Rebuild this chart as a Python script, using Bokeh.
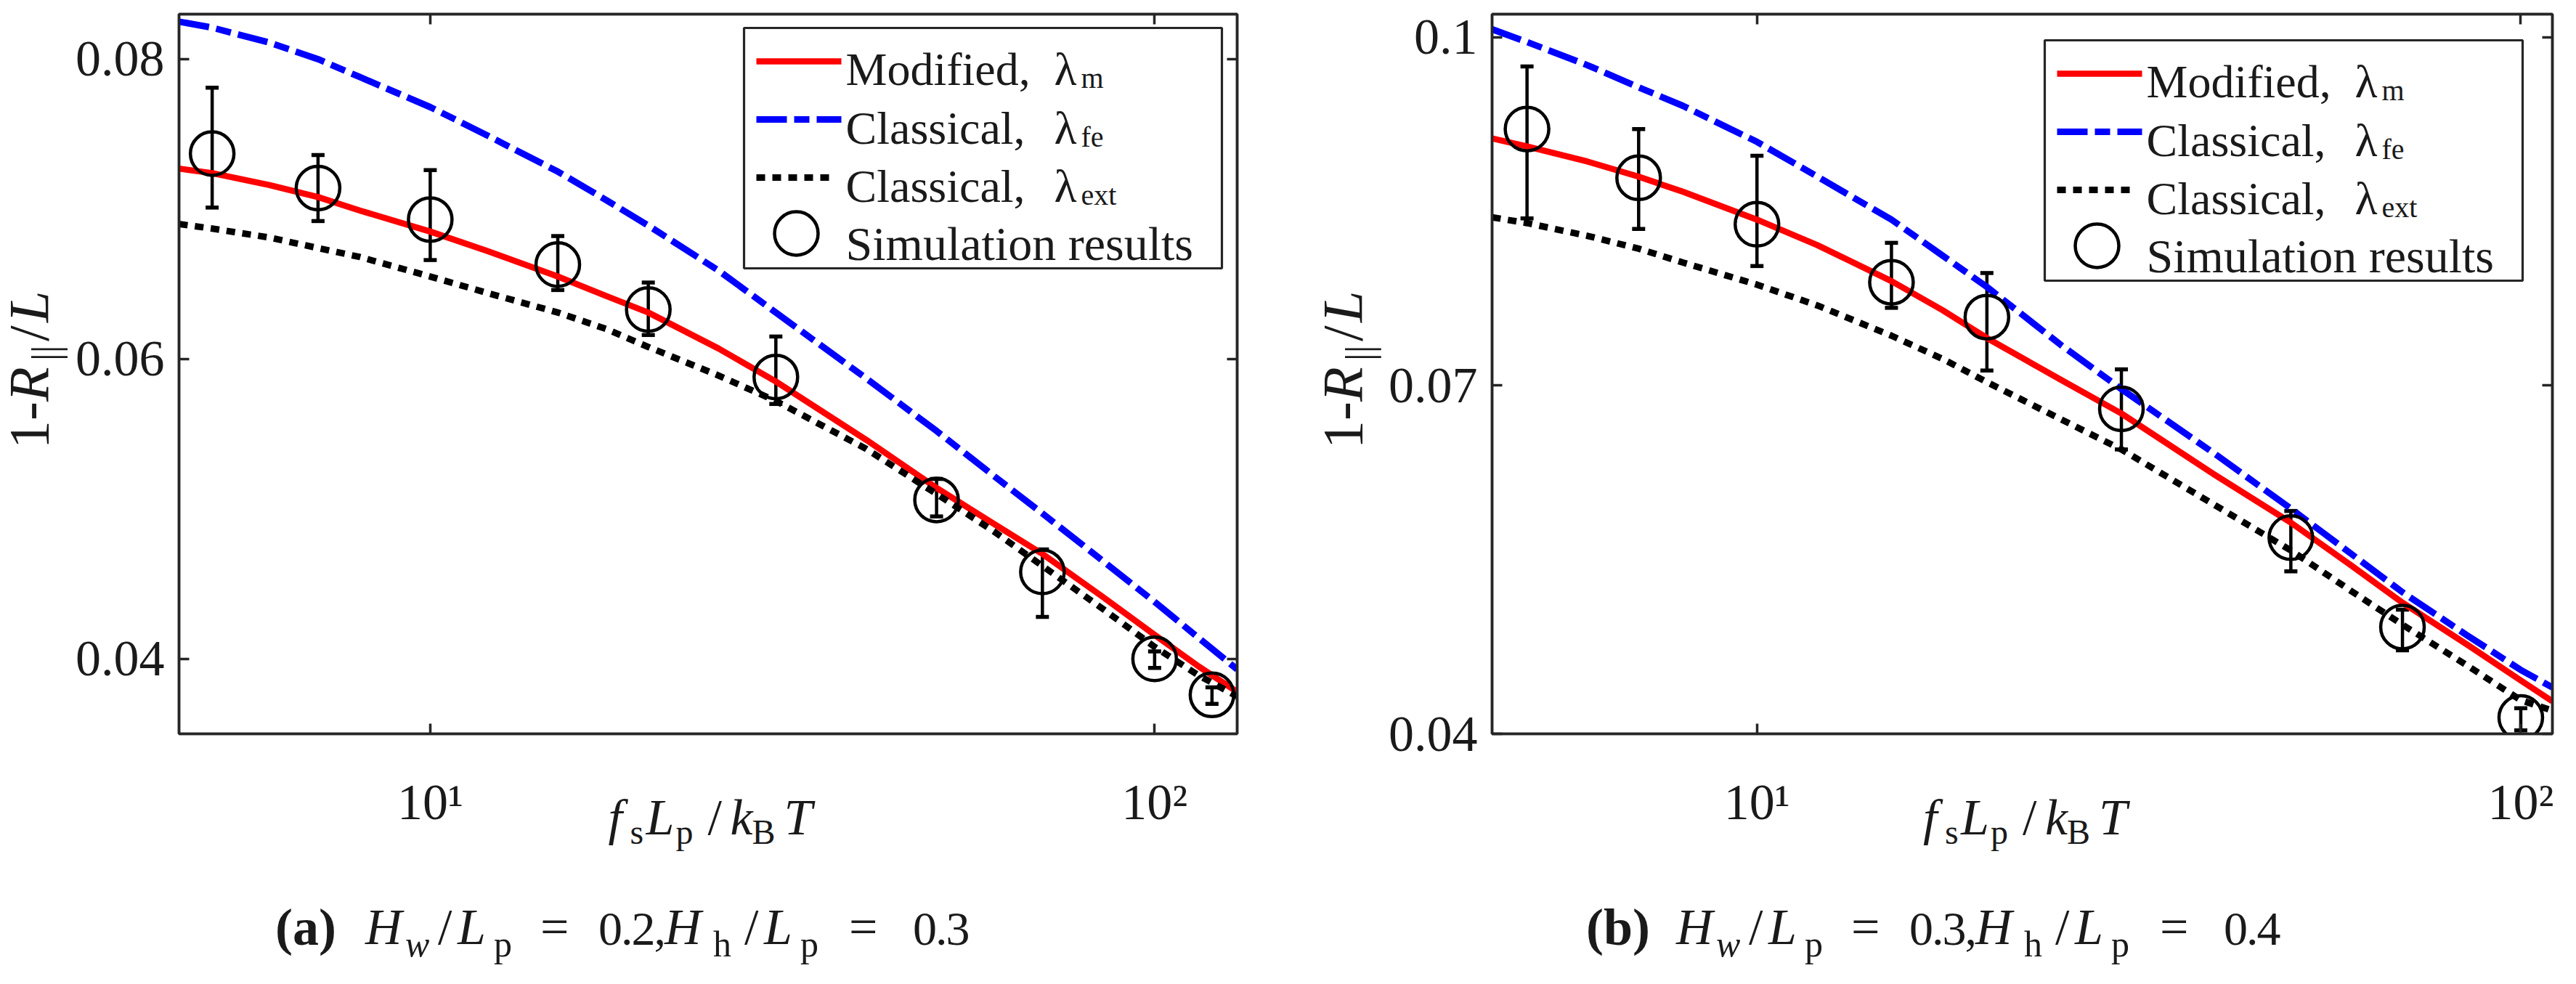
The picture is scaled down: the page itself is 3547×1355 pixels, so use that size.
import math
from bokeh.plotting import figure
from bokeh.models import (Range1d, LinearAxis, LogAxis, FixedTicker, Label, Whisker, TeeHead,
                          ColumnDataSource, Div)
from bokeh.layouts import row, column
from bokeh.embed import file_html
from bokeh.resources import INLINE

# ---------------- data: panel (a) ----------------
a_sim_x = [5, 7, 10, 15, 20, 30, 50, 70, 100, 120]
a_sim_y = [0.0737, 0.0714, 0.0693, 0.0663, 0.0633, 0.0588, 0.0506, 0.0458, 0.0400, 0.0376]
a_err_hi = [0.0781, 0.0736, 0.0726, 0.0682, 0.0651, 0.0615, 0.0520, 0.0473, 0.0405, 0.0381]
a_err_lo = [0.0701, 0.0692, 0.0666, 0.0646, 0.0616, 0.0570, 0.0495, 0.0428, 0.0394, 0.0370]
a_curve_x = [4.5, 5, 6, 7, 8, 10, 12, 15, 17.5, 20, 25, 30, 40, 50, 60, 70, 85, 100, 115, 130]
a_mod = [0.0727, 0.0724, 0.0716, 0.0708, 0.0699, 0.0685, 0.0672, 0.0655, 0.0642, 0.0631,
         0.0607, 0.0585, 0.0546, 0.0514, 0.0490, 0.0470, 0.0441, 0.0416, 0.0395, 0.0378]
a_fe = [0.0825, 0.0821, 0.0811, 0.0800, 0.0788, 0.0768, 0.0749, 0.0725, 0.0706, 0.0689,
        0.0659, 0.0631, 0.0587, 0.0552, 0.0522, 0.0497, 0.0465, 0.0438, 0.0414, 0.0393]
a_ext = [0.0690, 0.0687, 0.0681, 0.0674, 0.0668, 0.0655, 0.0644, 0.0631, 0.0620, 0.0608,
         0.0589, 0.0572, 0.0540, 0.0510, 0.0485, 0.0462, 0.0433, 0.0408, 0.0389, 0.0375]
a_yticks = [0.04, 0.06, 0.08]
a_ytick_labels = ["0.04", "0.06", "0.08"]
a_caption = ("(a)", "0.2,", "0.3")

# ---------------- data: panel (b) ----------------
b_sim_x = [5, 7, 10, 15, 20, 30, 50, 70, 100]
b_sim_y = [0.0921, 0.0879, 0.0839, 0.0789, 0.0759, 0.0680, 0.0569, 0.0492, 0.0414]
b_err_hi = [0.0975, 0.0921, 0.0898, 0.0823, 0.0797, 0.0714, 0.0592, 0.0507, 0.0422]
b_err_lo = [0.0844, 0.0835, 0.0803, 0.0767, 0.0713, 0.0645, 0.0540, 0.0472, 0.0403]
b_curve_x = [4.5, 5, 6, 7, 8, 10, 12, 15, 17.5, 20, 25, 30, 40, 50, 60, 70, 85, 100, 110]
b_mod = [0.0913, 0.0906, 0.0893, 0.0880, 0.0867, 0.0843, 0.0821, 0.0790, 0.0765, 0.0741,
         0.0705, 0.0676, 0.0622, 0.0582, 0.0545, 0.0513, 0.0477, 0.0446, 0.0428]
b_fe = [0.1007, 0.0996, 0.0976, 0.0957, 0.0941, 0.0910, 0.0880, 0.0843, 0.0812, 0.0785,
        0.0735, 0.0697, 0.0640, 0.0594, 0.0555, 0.0522, 0.0485, 0.0455, 0.0440]
b_ext = [0.0845, 0.0840, 0.0829, 0.0818, 0.0806, 0.0787, 0.0769, 0.0743, 0.0723, 0.0703,
         0.0671, 0.0645, 0.0596, 0.0558, 0.0523, 0.0494, 0.0459, 0.0429, 0.0420]
b_yticks = [0.04, 0.07, 0.1]
b_ytick_labels = ["0.04", "0.07", "0.1"]
b_caption = ("(b)", "0.3,", "0.4")

x_ticks = [10, 100]
x_tick_labels = ["10\u00b9", "10\u00b2"]
legend_main = ["Modified,", "Classical,", "Classical,", "Simulation results"]
legend_sub = ["m", "fe", "ext", ""]

# ---------------- styling / geometry ----------------
FONT = "Liberation Serif"
AX = "#262626"
TXT = "#1a1a1a"
RED, BLUE, BLK = "#ff0000", "#0000ff", "#000000"
FE_DASH = "42 10 21 10"
EXT_DASH = "12 10"


def make_conv(g):
    lx0, lx1 = math.log10(g["xr"][0]), math.log10(g["xr"][1])
    y0, y1 = g["yr"]

    def conv(px, py):
        x = 10 ** (lx0 + (px - g["left"]) / (g["right"] - g["left"]) * (lx1 - lx0))
        y = y1 - (py - g["top"]) / (g["bottom"] - g["top"]) * (y1 - y0)
        return x, y
    return conv


def put(p, conv, px, py, text, size, style="normal"):
    x, y = conv(px, py)
    p.add_layout(Label(x=x, y=y, text=text, text_font=FONT, text_font_size=f"{size}px",
                       text_font_style=style, text_color=TXT, text_align="left",
                       text_baseline="alphabetic"))


def style_axis(ax, show_labels, size=70, standoff=20):
    ax.axis_line_width = 3.5
    ax.axis_line_color = AX
    ax.major_tick_in = 14
    ax.major_tick_out = 0
    ax.major_tick_line_width = 3.5
    ax.major_tick_line_color = AX
    ax.minor_tick_line_color = None
    ax.major_label_text_font = FONT
    ax.major_label_text_color = TXT
    if show_labels:
        ax.major_label_text_font_size = f"{size}px"
        ax.major_label_standoff = standoff
    else:
        ax.major_label_text_font_size = "0px"
        ax.major_label_text_color = None
        ax.major_label_standoff = 0


def panel(g, cx, mod, fe, ext, sx, sy, hi, lo, yticks, ylabels):
    conv = make_conv(g)
    p = figure(x_axis_type="log", x_range=Range1d(*g["xr"]), y_range=Range1d(*g["yr"]),
               frame_width=g["right"] - g["left"], frame_height=g["bottom"] - g["top"],
               min_border_left=g["left"] - g["fig_x"], min_border_right=g["page_r"] - g["right"],
               min_border_top=g["top"] - 8, min_border_bottom=g["fig_bottom"] - g["bottom"],
               output_backend="svg", toolbar_location=None, margin=0)
    p.grid.visible = False
    p.outline_line_color = AX
    p.outline_line_width = 3.5
    p.background_fill_color = "white"
    p.border_fill_color = "white"

    p.xaxis.ticker = FixedTicker(ticks=x_ticks)
    p.xaxis.major_label_overrides = {t: s for t, s in zip(x_ticks, x_tick_labels)}
    p.yaxis.ticker = FixedTicker(ticks=yticks)
    p.yaxis.major_label_overrides = {t: s for t, s in zip(yticks, ylabels)}
    style_axis(p.xaxis[0], True, 70, 55)
    style_axis(p.yaxis[0], True, 70, 20)
    ra = LinearAxis(ticker=FixedTicker(ticks=yticks))
    style_axis(ra, False)
    p.add_layout(ra, "right")
    ta = LogAxis(ticker=FixedTicker(ticks=x_ticks))
    style_axis(ta, False)
    p.add_layout(ta, "above")

    # curves
    p.line(cx, mod, line_color=RED, line_width=8.5, line_join="round")
    p.line(cx, fe, line_color=BLUE, line_width=9, line_dash=FE_DASH, line_join="round")
    p.line(cx, ext, line_color=BLK, line_width=9, line_dash=EXT_DASH, line_join="round")

    # simulation results with error bars
    src = ColumnDataSource(dict(base=sx, upper=hi, lower=lo))
    p.add_layout(Whisker(source=src, base="base", upper="upper", lower="lower", dimension="height",
                         line_color=BLK, line_width=4.5,
                         upper_head=TeeHead(size=18, line_width=5.5, line_color=BLK),
                         lower_head=TeeHead(size=18, line_width=5.5, line_color=BLK)))
    p.scatter(sx, sy, marker="circle", size=60, fill_color=None, line_color=BLK, line_width=4.5)

    # ---- legend (inside the frame)
    bl, bt = g["leg"]
    x0, y0 = conv(bl, bt)
    x1, y1 = conv(bl + 658, bt + 331)
    p.quad(left=[x0], right=[x1], top=[y0], bottom=[y1], fill_color="white",
           line_color=AX, line_width=3.2)
    rows_y = [46, 126, 206]
    styles = [dict(line_color=RED, line_width=8.5),
              dict(line_color=BLUE, line_width=9, line_dash=FE_DASH),
              dict(line_color=BLK, line_width=9, line_dash=EXT_DASH)]
    ends = [134, 134, 117]
    for ry, st, e in zip(rows_y, styles, ends):
        xa, ya = conv(bl + 17, bt + ry)
        xb, _ = conv(bl + e, bt + ry)
        p.line([xa, xb], [ya, ya], **st)
    xc, yc = conv(bl + 72, bt + 283)
    p.scatter([xc], [yc], marker="circle", size=60, fill_color=None, line_color=BLK, line_width=4.5)
    bases = [57, 138, 218, 297]
    for i, (m, s) in enumerate(zip(legend_main, legend_sub)):
        put(p, conv, bl + 140, bt + bases[i], m, 64 if s else 66)
        if s:
            put(p, conv, bl + 427, bt + bases[i], "\u03bb", 64)
            put(p, conv, bl + 464, bt + bases[i] + 12, s, 40)
    return p


def span(left, baseline, text, size, style="normal", weight="normal", extra=""):
    top = baseline - 0.8375 * size
    return (f'<span style="position:absolute;left:{left:.1f}px;top:{top:.1f}px;'
            f'font-size:{size}px;line-height:{size}px;font-style:{style};font-weight:{weight};'
            f'white-space:nowrap;{extra}">{text}</span>')


YL_SIZE = 78


def ylabel_div(w, h, left, top, length):
    inner = ('1-<i>R</i><span style="font-size:54px;position:relative;left:-15px;'
             'margin-top:8px;margin-bottom:6px">||</span>'
             '<span style="margin-bottom:4px">/</span><i>L</i>')
    html = (f'<div style="position:relative;width:{w}px;height:{h}px;'
            f'font-family:\'{FONT}\';color:{TXT}">'
            f'<div style="position:absolute;left:{left:.1f}px;top:{top:.1f}px;'
            f'width:{YL_SIZE}px;height:{length}px;writing-mode:vertical-rl;'
            f'text-orientation:sideways;transform:rotate(180deg);white-space:nowrap;'
            f'font-size:{YL_SIZE}px;line-height:{YL_SIZE}px">{inner}</div></div>')
    return Div(text=html, width=w, height=h, margin=0)


def bottom_div(w, h, div_x, div_y, fc, cap0, caption):
    lab, v1, v2 = caption
    xb = 1158 - div_y
    xs = xb + 12
    parts = [
        span(fc - 136 - div_x, xb, "f", 70, "italic"),
        span(fc - 106 - div_x, xs, "s", 48),
        span(fc - 84 - div_x, xb, "L", 70, "italic"),
        span(fc - 43 - div_x, xs, "p", 48),
        span(fc + 1 - div_x, xb, "/", 70),
        span(fc + 32 - div_x, xb, "k", 70, "italic"),
        span(fc + 62 - div_x, xs, "B", 48),
        span(fc + 106 - div_x, xb, "T", 70, "italic"),
    ]
    cb = 1309 - div_y
    cs = 1325 - div_y
    c0 = cap0 - div_x
    dig = "letter-spacing:-2px"
    parts += [
        span(c0, cb, lab, 72, weight="bold"),
        span(c0 + 124, cb, "H", 70, "italic"),
        span(c0 + 179, cs, "w", 50, "italic"),
        span(c0 + 224, cb, "/", 70),
        span(c0 + 251, cb, "L", 70, "italic"),
        span(c0 + 301, cs, "p", 50),
        span(c0 + 365, cb, "=", 70),
        span(c0 + 445, cb, v1, 66, extra=dig),
        span(c0 + 536, cb, "H", 70, "italic"),
        span(c0 + 603, cs, "h", 50),
        span(c0 + 646, cb, "/", 70),
        span(c0 + 673, cb, "L", 70, "italic"),
        span(c0 + 723, cs, "p", 50),
        span(c0 + 790, cb, "=", 70),
        span(c0 + 878, cb, v2, 66, extra=dig),
    ]
    html = (f'<div style="position:relative;width:{w}px;height:{h}px;overflow:visible;'
            f'font-family:\'{FONT}\';color:{TXT}">' + "".join(parts) + '</div>')
    return Div(text=html, width=w, height=h, margin=0, styles={"overflow": "visible"})


FIG_BOTTOM = 1160
GA = dict(left=253, right=1710, top=27, bottom=1018, page_x=8, fig_x=108, page_r=1788,
          fig_bottom=FIG_BOTTOM, xr=(4.5, 130), yr=(0.035, 0.083), leg=(1031, 46), cap=387)
GB = dict(left=2061, right=3521, top=27, bottom=1018, page_x=1788, fig_x=1908, page_r=3539,
          fig_bottom=FIG_BOTTOM, xr=(4.5, 110), yr=(0.04, 0.102), leg=(2822, 63), cap=2191)

pa = panel(GA, a_curve_x, a_mod, a_fe, a_ext, a_sim_x, a_sim_y, a_err_hi, a_err_lo,
           a_yticks, a_ytick_labels)
pb = panel(GB, b_curve_x, b_mod, b_fe, b_ext, b_sim_x, b_sim_y, b_err_hi, b_err_lo,
           b_yticks, b_ytick_labels)

fig_h = FIG_BOTTOM - 8
bot_h = 1347 - FIG_BOTTOM


def build(g, p, caption):
    w_total = g["page_r"] - g["page_x"]
    wy = g["fig_x"] - g["page_x"]
    baseline_x = g["left"] - 179
    box_left = baseline_x - 0.8375 * YL_SIZE - g["page_x"]
    yd = ylabel_div(wy, fig_h, max(box_left, 0.5), 408 - 8, 218)
    bd = bottom_div(w_total, bot_h, g["page_x"], FIG_BOTTOM, (g["left"] + g["right"]) / 2,
                    g["cap"], caption)
    return column(row(yd, p, spacing=0, margin=0), bd, spacing=0, margin=0)


layout = row(build(GA, pa, a_caption), build(GB, pb, b_caption), spacing=0, margin=0)
open("out.html", "w").write(file_html(layout, INLINE))
